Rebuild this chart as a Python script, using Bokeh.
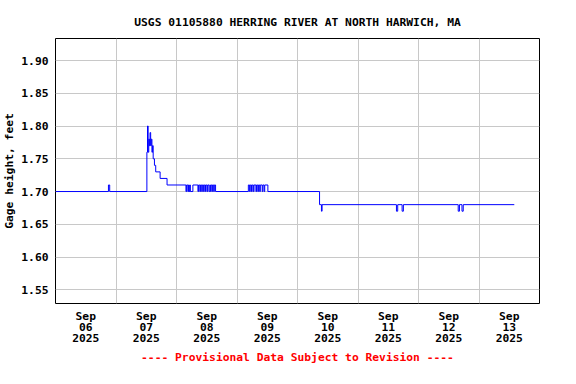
from bokeh.plotting import figure
from bokeh.models import FixedTicker, Range1d, NumeralTickFormatter
from bokeh.embed import file_html
from bokeh.resources import INLINE

# Hours since 2025-09-06 00:00 and gage height (ft), step breakpoints
hours = [0.0, 21.0, 21.5,
         36.25, 36.5, 36.75, 37.0, 37.25, 37.5, 37.75, 38.0, 38.25, 38.5, 38.75,
         39.25, 39.75, 41.5, 44.25,
         51.75, 52.0, 52.5, 52.75, 53.0, 53.25, 53.5, 54.5,
         56.5, 56.75, 57.25, 57.5, 58.0, 58.25, 58.75, 59.0, 59.5, 59.75, 60.25,
         60.5, 61.0, 61.5, 62.0, 62.25, 62.75, 63.0, 63.5,
         76.5, 77.0, 77.25, 77.75, 78.0, 78.5, 78.75, 79.5, 79.75, 80.25, 80.5,
         81.0, 81.25, 82.0, 82.25, 82.75, 83.0, 84.25,
         104.75, 105.5, 105.75,
         135.25, 135.75, 137.5, 138.0,
         159.75, 160.25, 161.25, 161.75,
         182.0]
gage = [1.70, 1.71, 1.70,
        1.76, 1.80, 1.76, 1.78, 1.77, 1.79, 1.77, 1.78, 1.76, 1.77, 1.75,
        1.74, 1.73, 1.72, 1.71,
        1.70, 1.71, 1.70, 1.71, 1.70, 1.71, 1.70, 1.71,
        1.70, 1.71, 1.70, 1.71, 1.70, 1.71, 1.70, 1.71, 1.70, 1.71, 1.70,
        1.71, 1.70, 1.71, 1.70, 1.71, 1.70, 1.71, 1.70,
        1.71, 1.70, 1.71, 1.70, 1.71, 1.70, 1.71, 1.70, 1.71, 1.70, 1.71,
        1.70, 1.71, 1.70, 1.71, 1.70, 1.71, 1.70,
        1.68, 1.67, 1.68,
        1.67, 1.68, 1.67, 1.68,
        1.67, 1.68, 1.67, 1.68,
        1.68]

day_label_hours = [12, 36, 60, 84, 108, 132, 156, 180]
day_labels = ["Sep\n06\n2025", "Sep\n07\n2025", "Sep\n08\n2025", "Sep\n09\n2025",
              "Sep\n10\n2025", "Sep\n11\n2025", "Sep\n12\n2025", "Sep\n13\n2025"]
day_grid_hours = [24, 48, 72, 96, 120, 144, 168]
y_ticks = [1.55, 1.60, 1.65, 1.70, 1.75, 1.80, 1.85, 1.90]

FONT = "DejaVu Sans Mono"
FS = "11.3px"

p = figure(width=560, height=368, output_backend="svg", toolbar_location=None,
           x_range=Range1d(0, 192), y_range=Range1d(1.5291, 1.9336),
           min_border_left=50, min_border_right=21, min_border_top=38, min_border_bottom=65,
           title="USGS 01105880 HERRING RIVER AT NORTH HARWICH, MA")

p.step(hours, gage, mode="after", line_color="#0000ff", line_width=1)

p.title.align = "center"
p.title.text_font = FONT
p.title.text_font_size = FS
p.title.text_font_style = "bold"
p.title.text_color = "black"
p.title.standoff = 20

p.outline_line_color = "black"
p.outline_line_width = 1
p.background_fill_color = "white"
p.border_fill_color = "white"

xa = p.xaxis[0]
xa.ticker = FixedTicker(ticks=day_label_hours)
xa.major_label_overrides = {h: lab for h, lab in zip(day_label_hours, day_labels)}
xa.axis_label = "---- Provisional Data Subject to Revision ----"
xa.axis_label_text_color = "#ff0000"
xa.axis_label_text_font = FONT
xa.axis_label_text_font_size = FS
xa.axis_label_text_font_style = "bold"
xa.axis_label_standoff = 3
xa.major_label_standoff = 6
xa.major_label_text_line_height = 0.88

ya = p.yaxis[0]
ya.ticker = FixedTicker(ticks=y_ticks)
ya.formatter = NumeralTickFormatter(format="0.00")
ya.axis_label = "Gage height, feet"
ya.axis_label_text_color = "black"
ya.axis_label_text_font = FONT
ya.axis_label_text_font_size = FS
ya.axis_label_text_font_style = "bold"
ya.axis_label_standoff = 2
ya.major_label_standoff = 7

for ax in (xa, ya):
    ax.axis_line_color = None
    ax.major_tick_line_color = None
    ax.minor_tick_line_color = None
    ax.major_tick_out = 0
    ax.major_tick_in = 0
    ax.major_label_text_font = FONT
    ax.major_label_text_font_size = FS
    ax.major_label_text_font_style = "bold"
    ax.major_label_text_color = "black"
    ax.axis_label_text_font_style = "bold"

p.xgrid[0].ticker = FixedTicker(ticks=day_grid_hours)
p.ygrid[0].ticker = FixedTicker(ticks=y_ticks)
for g in (p.xgrid[0], p.ygrid[0]):
    g.grid_line_color = "#c8c8c8"
    g.grid_line_width = 1
    g.grid_line_alpha = 1.0

open("out.html", "w").write(file_html(p, INLINE))
